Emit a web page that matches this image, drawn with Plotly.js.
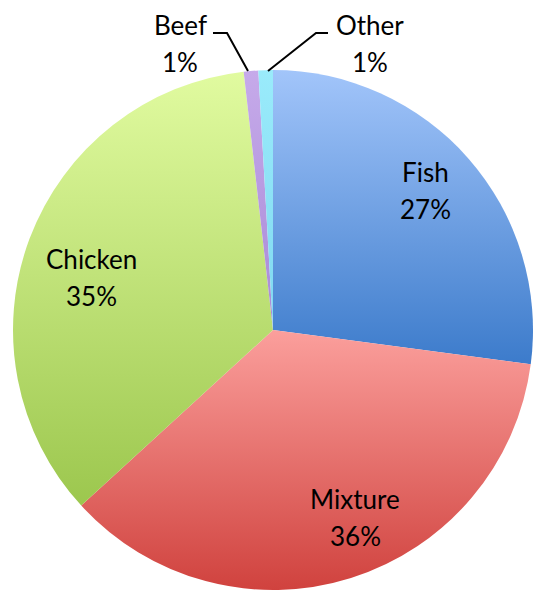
<!DOCTYPE html>
<html><head><meta charset="utf-8">
<script src="https://cdn.plot.ly/plotly-3.0.1.min.js"></script>
<style>html,body{margin:0;padding:0;background:#fff}#chart{width:533px;height:595px}</style>
</head><body><div id="chart"></div>
<script>
const labels = ['Fish', 'Mixture', 'Chicken', 'Beef', 'Other'];
const values = [27.1, 36.1, 35.0, 0.9, 0.9];
const colors = ['#6f9fe2', '#ea7673', '#c2e27a', '#b79be0', '#8fe3f6'];
const gradTop = ['#a2c5fa', '#fb9f9c', '#e1fba0', '#c6aaea', '#9aebfb'];
const gradBot = ['#3c7bcb', '#d0423e', '#9cc74e', '#a88ad6', '#7fd8f0'];

// label placement (pixels in the 533x595 frame): centre x, y of name line
const labelX = [425, 355, 91, 180, 370];
const labelY = [172, 499, 259, 25, 25];
const lineGap = 37;

const total = values.reduce((a, b) => a + b, 0);
const pctText = values.map(v => Math.round(v / total * 100) + '%');

const trace = {
  type: 'pie',
  labels: labels,
  values: values,
  sort: false,
  direction: 'clockwise',
  rotation: 0,
  marker: {colors: colors, line: {width: 0}},
  textinfo: 'none',
  hoverinfo: 'none',
  showlegend: false,
  domain: {x: [13 / 533, 1], y: [5 / 595, 525 / 595]}
};

const font = {family: 'Lato, sans-serif', size: 26, color: '#000'};
const annotations = [];
labels.forEach((l, i) => {
  [[l, labelY[i]], [pctText[i], labelY[i] + lineGap]].forEach(([t, y]) => {
    annotations.push({x: labelX[i] / 533, y: 1 - y / 595, text: t,
      xref: 'paper', yref: 'paper', showarrow: false,
      xanchor: 'center', yanchor: 'middle', font: font});
  });
});

const leaderPaths = [
  [[213, 33], [227, 33], [248, 71]],
  [[328, 33], [316, 33], [268, 71]]
];
const shapes = leaderPaths.map(pts => ({
  type: 'path', xref: 'paper', yref: 'paper',
  path: pts.map((p, k) => (k ? 'L ' : 'M ') + (p[0] / 533).toFixed(4) + ' ' + (1 - p[1] / 595).toFixed(4)).join(' '),
  line: {color: '#000', width: 2}
}));

const layout = {
  width: 533, height: 595,
  margin: {l: 0, r: 0, t: 0, b: 0},
  paper_bgcolor: '#fff',
  annotations: annotations,
  shapes: shapes
};

Plotly.newPlot('chart', [trace], layout, {displayModeBar: false, staticPlot: true}).then(gd => {
  const svg = gd.querySelector('svg.main-svg');
  const ns = 'http://www.w3.org/2000/svg';
  let defs = svg.querySelector('defs');
  if (!defs) { defs = document.createElementNS(ns, 'defs'); svg.insertBefore(defs, svg.firstChild); }
  labels.forEach((l, i) => {
    const g = document.createElementNS(ns, 'linearGradient');
    g.setAttribute('id', 'sliceGrad' + i);
    g.setAttribute('x1', '0'); g.setAttribute('y1', '0');
    g.setAttribute('x2', '0'); g.setAttribute('y2', '1');
    [[0, gradTop[i]], [1, gradBot[i]]].forEach(([o, c]) => {
      const s = document.createElementNS(ns, 'stop');
      s.setAttribute('offset', o); s.setAttribute('stop-color', c);
      g.appendChild(s);
    });
    defs.appendChild(g);
  });
  gd.querySelectorAll('g.slice').forEach((sl, i) => {
    const p = sl.querySelector('path.surface');
    if (p) p.style.fill = 'url(#sliceGrad' + i + ')';
  });
});
</script></body></html>
